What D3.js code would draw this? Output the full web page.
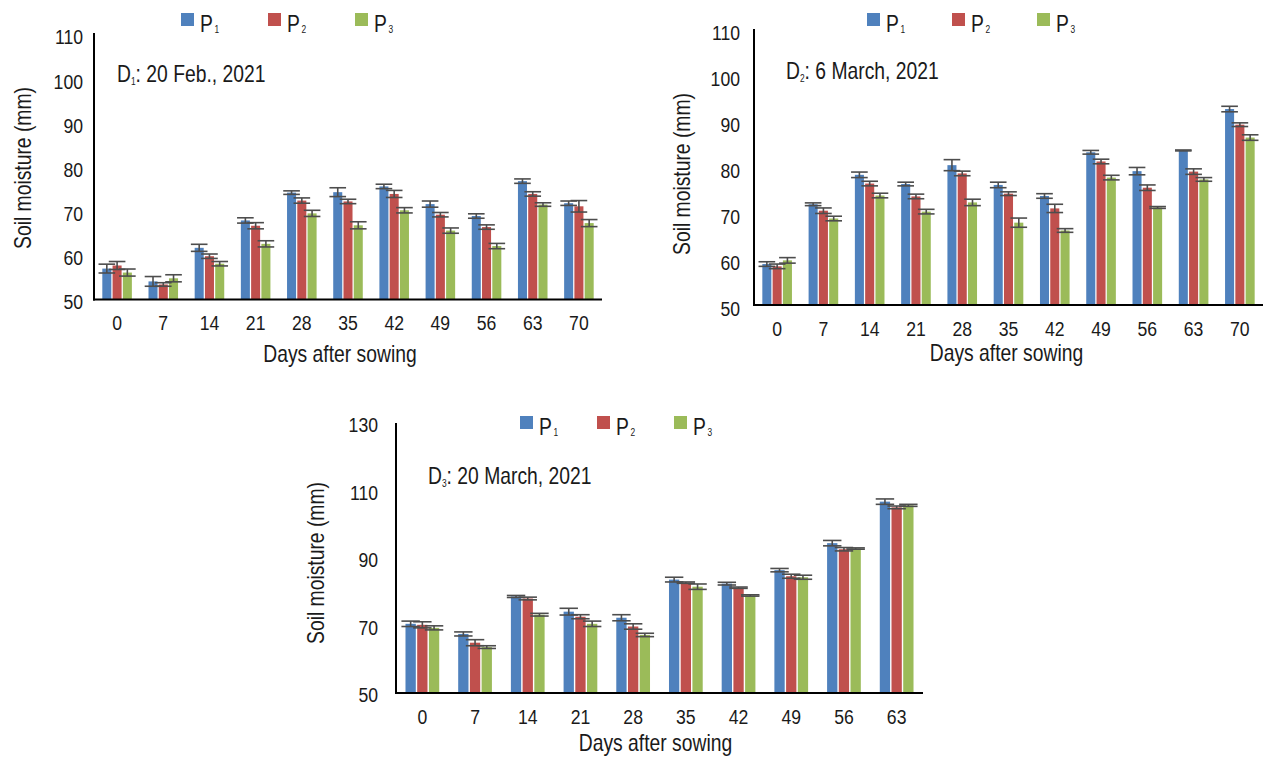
<!DOCTYPE html>
<html>
<head>
<meta charset="utf-8">
<script src="https://cdn.jsdelivr.net/npm/d3@7"></script>
<style>
  html, body { margin: 0; padding: 0; background: #fff; }
  svg text { font-family: "Liberation Sans", Arial, sans-serif; fill: #1a1a1a; }
</style>
</head>
<body>
<svg id="chart" width="1266" height="760"></svg>
<script>
// ---------------- DATA ----------------
const seriesNames = ["P1", "P2", "P3"];
const seriesSubs = ["1", "2", "3"];
const seriesColors = ["#4F81BD", "#C0504D", "#9BBB59"];

// D1: 20 Feb., 2021
const daysD1 = ["0", "7", "14", "21", "28", "35", "42", "49", "56", "63", "70"];
const p1D1 = [57.0, 54.1, 61.7, 67.9, 74.2, 74.3, 75.6, 71.6, 68.9, 76.8, 71.8];
const p2D1 = [57.7, 53.4, 59.8, 66.7, 72.4, 72.2, 73.9, 69.2, 66.4, 73.9, 71.1];
const p3D1 = [56.1, 54.8, 58.1, 62.6, 69.5, 66.8, 70.2, 65.6, 62.1, 71.5, 67.3];
const e1D1 = [1.0, 1.1, 0.8, 0.6, 0.4, 1.0, 0.5, 0.7, 0.5, 0.5, 0.5];
const e2D1 = [0.9, 0.4, 0.5, 0.7, 0.6, 0.5, 0.8, 0.5, 0.5, 0.5, 1.3];
const e3D1 = [0.8, 0.8, 0.5, 0.7, 0.7, 0.8, 0.6, 0.6, 0.6, 0.4, 0.8];
const yTicksD1 = [50, 60, 70, 80, 90, 100, 110];

// D2: 6 March, 2021
const daysD2 = ["0", "7", "14", "21", "28", "35", "42", "49", "56", "63", "70"];
const p1D2 = [58.9, 71.9, 78.3, 76.3, 80.4, 76.1, 73.7, 83.2, 79.1, 83.6, 92.6];
const p2D2 = [58.4, 70.5, 76.4, 73.6, 78.6, 74.2, 71.0, 81.2, 75.5, 79.0, 89.2];
const p3D2 = [59.7, 68.8, 73.8, 70.3, 72.3, 67.9, 66.2, 77.7, 71.2, 77.3, 86.4];
const e1D2 = [0.5, 0.3, 0.6, 0.4, 1.2, 0.6, 0.5, 0.4, 0.8, 0.1, 0.6];
const e2D2 = [0.5, 0.6, 0.5, 0.5, 0.5, 0.4, 0.9, 0.5, 0.6, 0.6, 0.4];
const e3D2 = [0.6, 0.5, 0.5, 0.5, 0.7, 1.0, 0.4, 0.5, 0.2, 0.4, 0.6];
const yTicksD2 = [50, 60, 70, 80, 90, 100, 110];

// D3: 20 March, 2021
const daysD3 = ["0", "7", "14", "21", "28", "35", "42", "49", "56", "63"];
const p1D3 = [70.5, 67.5, 78.6, 74.1, 72.3, 83.6, 82.4, 86.4, 94.4, 106.7];
const p2D3 = [70.2, 64.9, 78.0, 72.6, 69.7, 82.7, 81.2, 84.6, 92.6, 105.0];
const p3D3 = [69.3, 63.6, 73.2, 70.5, 67.2, 81.5, 78.9, 84.3, 92.8, 105.6];
const e1D3 = [0.8, 0.6, 0.3, 1.0, 0.9, 0.7, 0.4, 0.5, 0.8, 0.8];
const e2D3 = [0.9, 0.9, 0.4, 0.6, 0.8, 0.2, 0.2, 0.6, 0.5, 0.4];
const e3D3 = [0.6, 0.4, 0.4, 0.8, 0.5, 0.8, 0.2, 0.6, 0.2, 0.3];
const yTicksD3 = [50, 70, 90, 110, 130];

// ---------------- DRAW ----------------
const svg = d3.select("#chart");
const NARROW = 0.84;

function drawChart(cfg) {
  const g = svg.append("g");
  const x = d3.scaleBand().domain(cfg.days).range([cfg.x0, cfg.x1]).padding(0);
  const inner = d3.scaleBand().domain(seriesNames)
    .range([x.bandwidth() * 0.18, x.bandwidth() * 0.82]).paddingInner(0.12);
  const y = d3.scaleLinear().domain([cfg.yTicks[0], cfg.yTicks[cfg.yTicks.length - 1]])
    .range([cfg.yBase, cfg.yTop]);

  const values = [cfg.p1, cfg.p2, cfg.p3];
  const errs = [cfg.e1, cfg.e2, cfg.e3];
  const rows = [];
  cfg.days.forEach((d, i) => {
    seriesNames.forEach((s, k) => rows.push({ day: d, s, k, v: values[k][i], e: errs[k][i] }));
  });

  // bars
  g.append("g").selectAll("rect").data(rows).join("rect")
    .attr("x", d => x(d.day) + inner(d.s))
    .attr("width", inner.bandwidth())
    .attr("y", d => y(d.v))
    .attr("height", d => y(cfg.yTicks[0]) - y(d.v))
    .attr("fill", d => seriesColors[d.k]);

  // error bars
  const eg = g.append("g").attr("stroke", "#4d4d4d").attr("stroke-width", 1.6).attr("fill", "none");
  rows.forEach(d => {
    const cx = x(d.day) + inner(d.s) + inner.bandwidth() / 2;
    const cap = inner.bandwidth() * 0.7 + 2;
    eg.append("line").attr("x1", cx).attr("x2", cx).attr("y1", y(d.v + d.e)).attr("y2", y(d.v - d.e));
    eg.append("line").attr("x1", cx - cap).attr("x2", cx + cap).attr("y1", y(d.v + d.e)).attr("y2", y(d.v + d.e));
    eg.append("line").attr("x1", cx - cap).attr("x2", cx + cap).attr("y1", y(d.v - d.e)).attr("y2", y(d.v - d.e));
  });

  // y axis
  const yAxis = d3.axisLeft(y).tickValues(cfg.yTicks).tickSize(0).tickPadding(cfg.yPad);
  const ya = g.append("g").attr("transform", `translate(${cfg.x0},0)`).call(yAxis);
  ya.select(".domain").remove();
  ya.selectAll("text").attr("font-size", 21).attr("dy", cfg.yLabelDy)
    .style("font-family", "inherit");
  g.append("line").attr("x1", cfg.x0).attr("x2", cfg.x0).attr("y1", cfg.yAxisTop).attr("y2", cfg.yBase + 1)
    .attr("stroke", "#000").attr("stroke-width", 2);

  // x axis
  const xAxis = d3.axisBottom(x).tickSize(0).tickPadding(cfg.xPad);
  const xa = g.append("g").attr("transform", `translate(0,${cfg.yBase})`).call(xAxis);
  xa.select(".domain").remove();
  xa.selectAll("text").attr("font-size", 21).style("font-family", "inherit");
  g.append("line").attr("x1", cfg.x0 - 1).attr("x2", cfg.x1).attr("y1", cfg.yBase).attr("y2", cfg.yBase)
    .attr("stroke", "#000").attr("stroke-width", 2);

  // axis titles
  g.append("text").attr("x", (cfg.x0 + cfg.x1) / 2 + cfg.xTitleDx).attr("y", cfg.xTitleY)
    .attr("text-anchor", "middle").attr("font-size", 23).text("Days after sowing");
  g.append("text").attr("transform", `translate(${cfg.yTitleX},${cfg.yTitleCy}) rotate(-90)`)
    .attr("text-anchor", "middle").attr("font-size", 23).text("Soil moisture (mm)");

  // date annotation
  const ann = g.append("text").attr("x", cfg.annX).attr("y", cfg.annY).attr("font-size", 23);
  ann.append("tspan").text("D");
  ann.append("tspan").attr("font-size", 10).attr("dy", 3).text(cfg.annSub);
  ann.append("tspan").attr("dy", -3).text(cfg.annText);

  // legend
  seriesNames.forEach((s, k) => {
    const lx = cfg.legX + k * cfg.legStep;
    g.append("rect").attr("x", lx).attr("y", cfg.legY).attr("width", 13).attr("height", 13)
      .attr("fill", seriesColors[k]);
    const t = g.append("text").attr("x", lx + 19).attr("y", cfg.legY + 19).attr("font-size", 23);
    t.append("tspan").text("P");
    t.append("tspan").attr("font-size", 10).attr("dx", 2).attr("dy", 1).text(seriesSubs[k]);
  });
}

drawChart({
  days: daysD1, p1: p1D1, p2: p2D1, p3: p3D1, e1: e1D1, e2: e2D1, e3: e3D1, yTicks: yTicksD1,
  x0: 94, x1: 602, yBase: 299.5, yTop: 34.5, yAxisTop: 33, yPad: 11, yLabelDy: "0.45em",
  xPad: 16, xTitleY: 362, xTitleDx: -8, yTitleX: 31, yTitleCy: 168,
  annX: 117, annY: 82, annSub: "1", annText: ": 20 Feb., 2021",
  legX: 181, legY: 13, legStep: 87
});

drawChart({
  days: daysD2, p1: p1D2, p2: p2D2, p3: p3D2, e1: e1D2, e2: e2D2, e3: e3D2, yTicks: yTicksD2,
  x0: 754, x1: 1263, yBase: 305, yTop: 29, yAxisTop: 29, yPad: 14, yLabelDy: "0.5em",
  xPad: 16, xTitleY: 361, xTitleDx: -2, yTitleX: 690, yTitleCy: 174,
  annX: 786, annY: 79, annSub: "2", annText: ": 6 March, 2021",
  legX: 867, legY: 13, legStep: 85
});

drawChart({
  days: daysD3, p1: p1D3, p2: p2D3, p3: p3D3, e1: e1D3, e2: e2D3, e3: e3D3, yTicks: yTicksD3,
  x0: 396, x1: 923, yBase: 693, yTop: 423, yAxisTop: 423, yPad: 18, yLabelDy: "0.42em",
  xPad: 16, xTitleY: 751, xTitleDx: -4, yTitleX: 324, yTitleCy: 563,
  annX: 428, annY: 484, annSub: "3", annText: ": 20 March, 2021",
  legX: 520, legY: 416, legStep: 77
});

// condense all text horizontally around its anchor (reference uses a narrow face)
svg.selectAll("text").each(function () {
  const t = d3.select(this);
  const tx = +(t.attr("x") || 0);
  const prev = t.attr("transform") || "";
  if (prev) t.attr("transform", `${prev} scale(${NARROW},1)`);
  else t.attr("transform", `translate(${tx * (1 - NARROW)},0) scale(${NARROW},1)`);
});
</script>
</body>
</html>
